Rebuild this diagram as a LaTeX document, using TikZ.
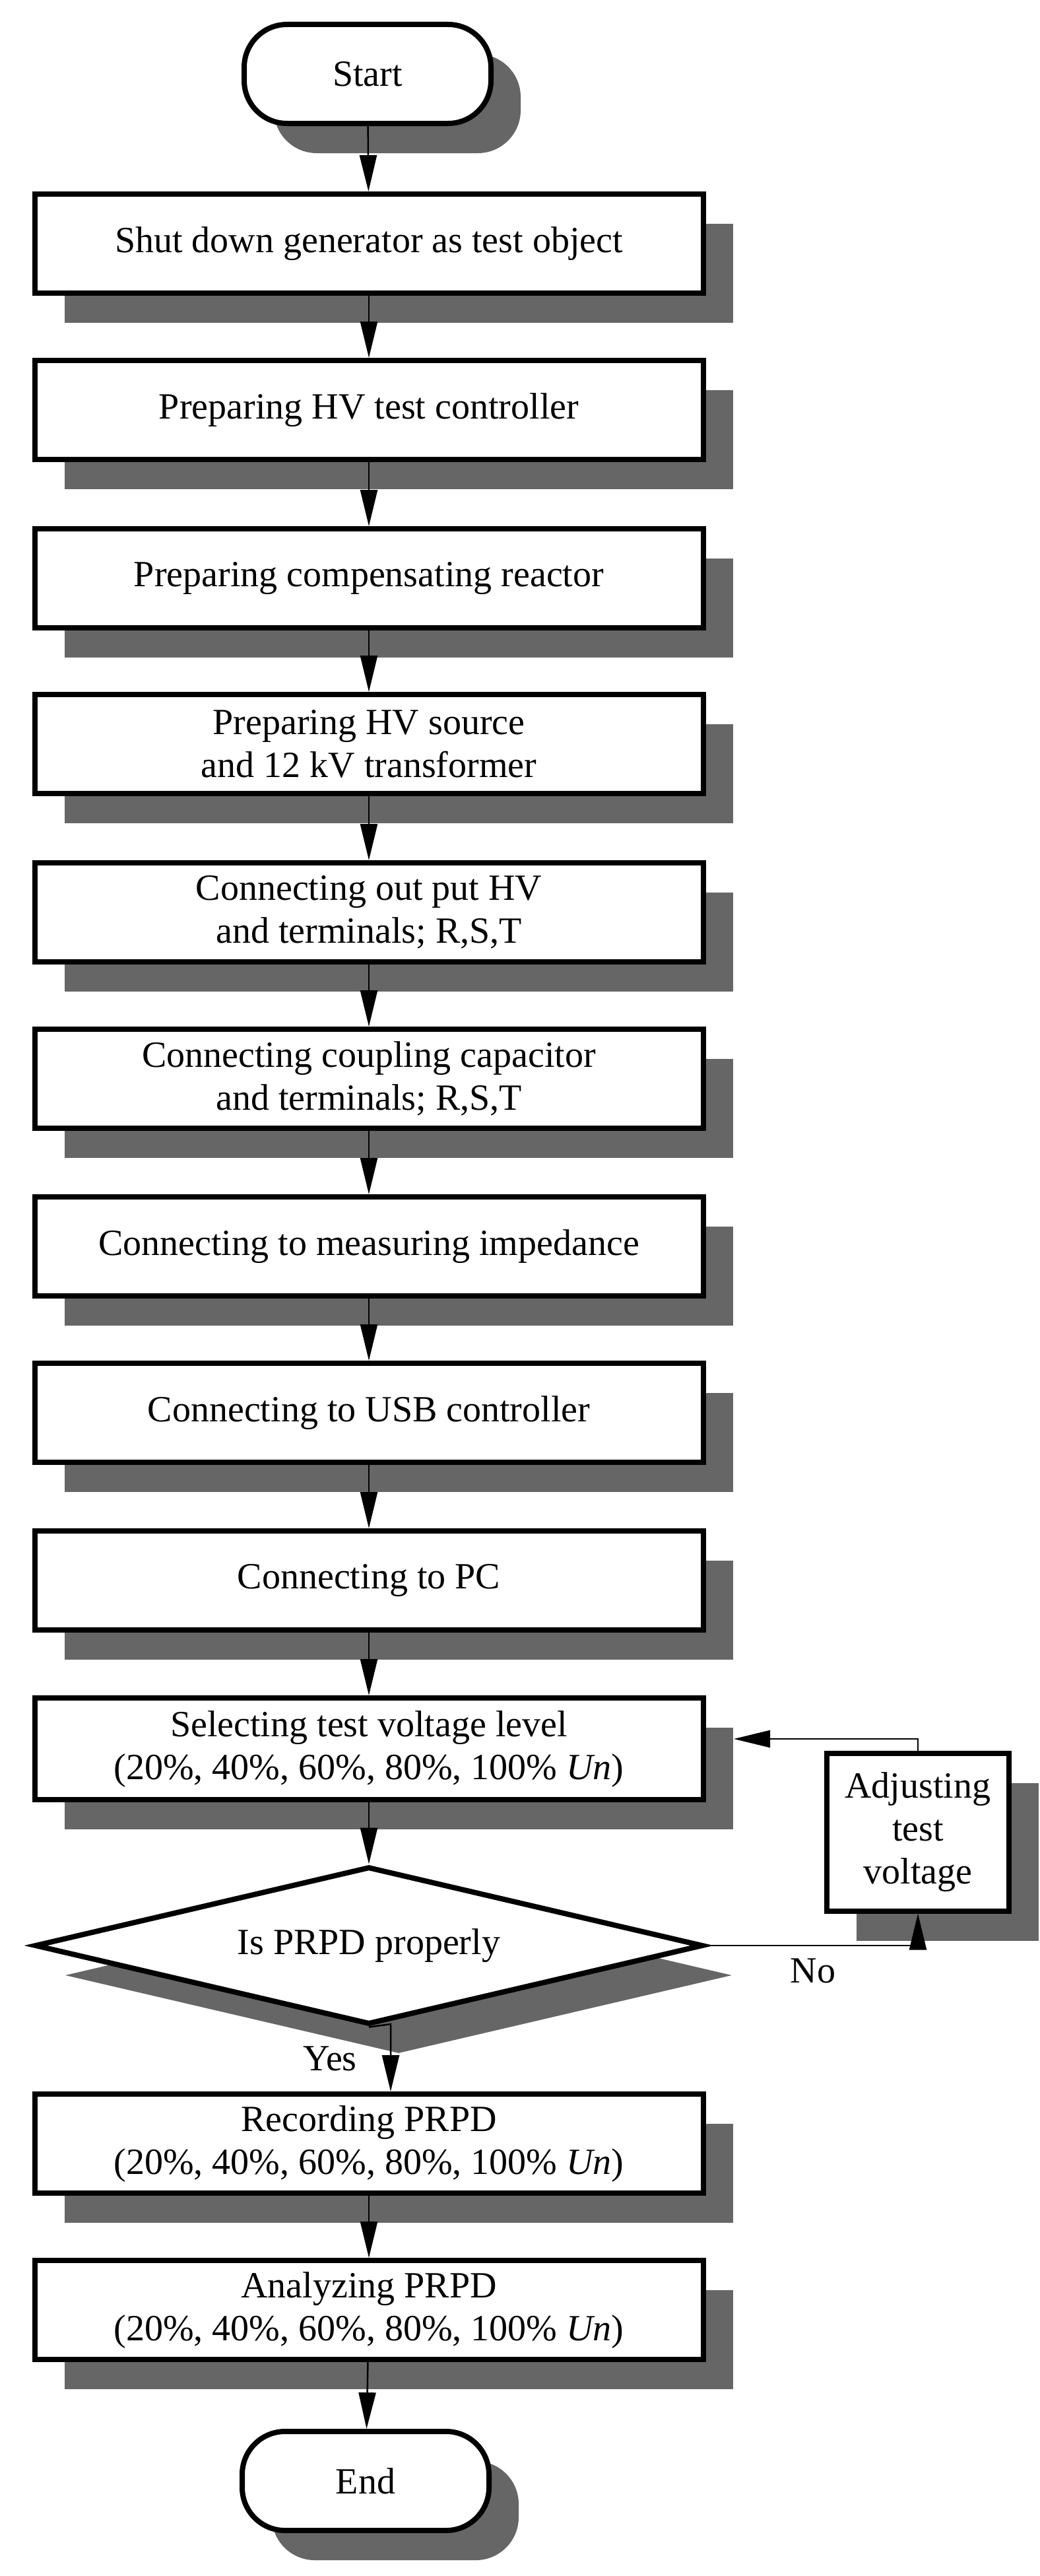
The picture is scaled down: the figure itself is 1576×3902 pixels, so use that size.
\documentclass[tikz,border=0pt]{standalone}
\usepackage{fontspec}
\setmainfont{Liberation Serif}
\usetikzlibrary{shapes.geometric,arrows.meta,shadows}
\definecolor{shd}{HTML}{666666}
\begin{document}
\begin{tikzpicture}[x=1pt,y=-1pt,
  shd/.style={copy shadow={shadow xshift=45pt,shadow yshift=-45pt,fill=shd,draw=none}},
  box/.style={draw,line width=8pt,fill=white,minimum width=1013pt,minimum height=150pt,align=center,inner sep=0pt,shd,font=\fontsize{56}{65}\selectfont},
  term/.style={draw,line width=8pt,fill=white,minimum width=374pt,minimum height=150pt,rounded corners=65pt,inner sep=0pt,shd,font=\fontsize{56}{65}\selectfont},
  dia/.style={draw,diamond,line width=8pt,fill=white,minimum width=1013pt,minimum height=239pt,aspect=4.24,inner sep=0pt,shd,font=\fontsize{56}{65}\selectfont},
  arr/.style={line width=2.5pt,-{Triangle[length=55pt,width=26pt]}},
  lbl/.style={font=\fontsize{56}{65}\selectfont}]
\useasboundingbox (0,0) rectangle (1576,3902);
\fill[white] (0,0) rectangle (1576,3902);
\node[term] (s) at (557,112) {Start};
\node[box] (b1) at (559,369) {Shut down generator as test object};
\node[box] (b2) at (559,621) {Preparing HV test controller};
\node[box] (b3) at (559,876) {Preparing compensating reactor};
\node[box] (b4) at (559,1127) {Preparing HV source\\and 12 kV transformer};
\node[box] (b5) at (559,1382) {Connecting out put HV\\and terminals; R,S,T};
\node[box] (b6) at (559,1634) {Connecting coupling capacitor\\and terminals; R,S,T};
\node[box] (b7) at (559,1888) {Connecting to measuring impedance};
\node[box] (b8) at (559,2140) {Connecting to USB controller};
\node[box] (b9) at (559,2394) {Connecting to PC};
\node[box,minimum height=154pt] (b10) at (559,2649) {Selecting test voltage level\\(20\%, 40\%, 60\%, 80\%, 100\% \textit{Un})};
\node[dia] (d) at (559,2947) {Is PRPD properly};
\node[box,minimum width=276pt,minimum height=239pt] (adj) at (1391,2775) {Adjusting\\test\\voltage};
\node[box] (r) at (559,3247) {Recording PRPD\\(20\%, 40\%, 60\%, 80\%, 100\% \textit{Un})};
\node[box] (a) at (559,3499) {Analyzing PRPD\\(20\%, 40\%, 60\%, 80\%, 100\% \textit{Un})};
\node[term] (e) at (554,3758) {End};
\draw[arr] (s) -- (b1);
\draw[arr] (b1) -- (b2);
\draw[arr] (b2) -- (b3);
\draw[arr] (b3) -- (b4);
\draw[arr] (b4) -- (b5);
\draw[arr] (b5) -- (b6);
\draw[arr] (b6) -- (b7);
\draw[arr] (b7) -- (b8);
\draw[arr] (b8) -- (b9);
\draw[arr] (b9) -- (b10);
\draw[arr] (b10) -- (d);
\coordinate (yb) at (592,3066);
\draw[arr] (d.south) -- (yb) -- (yb |- r.north);
\draw[arr] (d.east) -| (adj.south);
\coordinate (fb) at (1112,2634);
\draw[arr] (adj.north) |- (fb);
\draw[arr] (r) -- (a);
\draw[arr] (a) -- (e);
\node[lbl] (no) at (1232,2985) {No};
\node[lbl] (yes) at (500,3118) {Yes};
\end{tikzpicture}
\end{document}
